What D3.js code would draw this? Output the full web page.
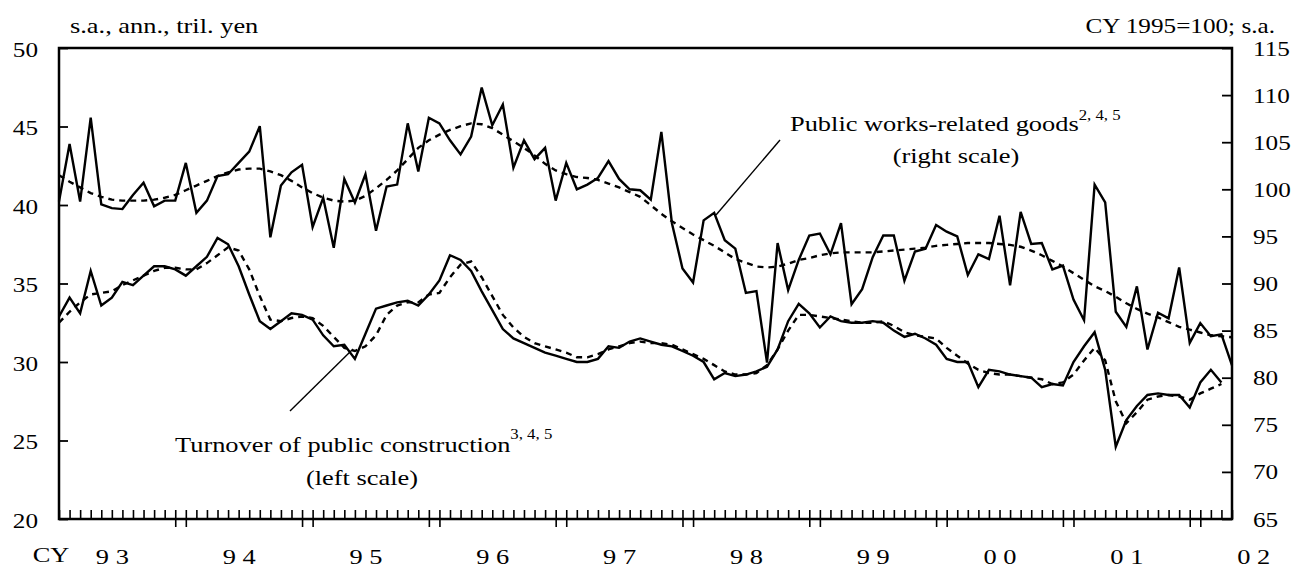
<!DOCTYPE html>
<html>
<head>
<meta charset="utf-8">
<script src="https://cdn.jsdelivr.net/npm/d3@7/dist/d3.min.js"></script>
<style>
  html, body { margin: 0; padding: 0; background: #fff; }
  svg { display: block; }
</style>
</head>
<body>
<div id="chart"></div>
<script>
// monthly data, Jan 1993 onwards
var yearLabels = ["9 3", "9 4", "9 5", "9 6", "9 7", "9 8", "9 9", "0 0", "0 1", "0 2"];
var leftTicks = [20, 25, 30, 35, 40, 45, 50];
var rightTicks = [65, 70, 75, 80, 85, 90, 95, 100, 105, 110, 115];

// public works-related goods (right scale), Jan 93 - Apr 02
var goods = [
  98.7, 104.8, 98.7, 107.6, 98.4, 98.0, 97.9, 99.4, 100.7, 98.2, 98.8, 98.8,
  102.8, 97.5, 98.8, 101.4, 101.6, 102.8, 104.0, 106.7, 94.9, 100.4, 101.8, 102.6,
  96.0, 99.1, 93.8, 101.1, 98.6, 101.6, 95.6, 100.3, 100.5, 107.0, 101.9, 107.6,
  107.0, 105.2, 103.7, 105.6, 110.8, 106.8, 109.0, 102.3, 105.2, 103.2, 104.4, 98.8,
  102.8, 100.0, 100.5, 101.2, 103.0, 101.1, 100.0, 99.9, 98.9, 106.1, 96.4, 91.6,
  90.1, 96.7, 97.5, 94.6, 93.7, 89.0, 89.2, 81.6, 94.3, 89.3, 92.5, 95.1,
  95.3, 93.1, 96.4, 87.8, 89.4, 92.8, 95.1, 95.1, 90.3, 93.4, 93.7, 96.2,
  95.5, 95.0, 90.9, 93.1, 92.6, 97.2, 89.8, 97.6, 94.2, 94.3, 91.5, 91.9,
  88.3, 86.1, 100.5, 98.6, 87.0, 85.4, 89.7, 83.0, 86.9, 86.3, 91.7, 83.7,
  85.8, 84.4, 84.6, 81.3
];
var goodsTrend = [
  101.5, 100.8, 100.2, 99.6, 99.2, 98.9, 98.8, 98.8, 98.8, 98.9, 99.1, 99.4,
  99.9, 100.4, 100.9, 101.4, 101.8, 102.1, 102.2, 102.2, 101.9, 101.5, 100.9, 100.2,
  99.6, 99.1, 98.8, 98.7, 98.8, 99.3, 100.1, 101.0, 102.0, 103.2, 104.4, 105.2,
  105.8, 106.3, 106.7, 107.0, 106.9, 106.5, 105.8, 105.1, 104.4, 103.6, 102.7, 102.0,
  101.6, 101.3, 101.2, 101.0, 100.6, 100.2, 99.7, 99.2, 98.3, 97.4, 96.6, 95.9,
  95.2, 94.6, 94.0, 93.3, 92.6, 92.2, 91.8, 91.7, 91.8, 92.1, 92.5, 92.7,
  93.0, 93.2, 93.3, 93.3, 93.3, 93.3, 93.4, 93.5, 93.6, 93.7, 93.8, 94.0,
  94.1, 94.2, 94.3, 94.3, 94.3, 94.2, 94.1, 93.9, 93.5, 93.0, 92.4, 91.8,
  91.1, 90.4, 89.7, 89.2, 88.6, 87.9, 87.3, 86.8, 86.4, 85.9, 85.4, 85.1,
  84.8, 84.5, 84.4, 84.3
];

// turnover of public construction (left scale), Jan 93 - Mar 02
var construction = [
  32.9, 34.1, 33.1, 35.8, 33.6, 34.1, 35.1, 34.9, 35.5, 36.1, 36.1, 35.9,
  35.5, 36.1, 36.7, 37.9, 37.5, 36.1, 34.3, 32.6, 32.1, 32.6, 33.1, 33.0,
  32.7, 31.7, 31.0, 31.1, 30.2, 31.8, 33.4, 33.6, 33.8, 33.9, 33.6, 34.3,
  35.2, 36.8, 36.5, 35.8, 34.5, 33.3, 32.1, 31.5, 31.2, 30.9, 30.6, 30.4,
  30.2, 30.0, 30.0, 30.2, 31.0, 30.9, 31.3, 31.5, 31.3, 31.1, 31.0, 30.7,
  30.4, 30.0, 28.9, 29.3, 29.1, 29.2, 29.4, 29.7, 30.8, 32.6, 33.7, 33.1,
  32.2, 32.9, 32.6, 32.5, 32.5, 32.6, 32.5, 32.0, 31.6, 31.8, 31.5, 31.1,
  30.2, 30.0, 30.0, 28.4, 29.5, 29.4, 29.2, 29.1, 29.0, 28.4, 28.6, 28.5,
  30.0, 31.0, 31.9, 29.5, 24.6, 26.3, 27.2, 27.9, 28.0, 27.9, 27.9, 27.1,
  28.7, 29.5, 28.7
];
var constructionTrend = [
  32.5, 33.2, 33.8, 34.3, 34.4, 34.5, 34.9, 35.2, 35.5, 35.8, 36.0, 36.0,
  35.9, 35.9, 36.3, 36.8, 37.3, 37.1, 35.9, 34.2, 32.7, 32.6, 32.8, 32.9,
  32.8, 32.3, 31.6, 30.9, 30.7, 31.0, 31.7, 33.0, 33.6, 33.8, 33.8, 34.3,
  34.4, 35.4, 36.2, 36.4, 35.4, 34.2, 33.0, 32.2, 31.6, 31.2, 31.0, 30.8,
  30.6, 30.3, 30.3, 30.5, 30.8, 31.0, 31.2, 31.3, 31.2, 31.2, 31.1, 30.8,
  30.5, 30.2, 29.8, 29.4, 29.2, 29.2, 29.3, 29.8, 30.8, 32.0, 33.0, 33.0,
  32.9, 32.8, 32.7, 32.6, 32.5, 32.5, 32.6, 32.3, 31.9, 31.7, 31.6, 31.5,
  30.9, 30.4, 29.9, 29.5, 29.3, 29.2, 29.2, 29.1, 29.0, 28.9, 28.6, 28.7,
  29.2, 30.1, 30.9, 30.1, 27.5, 26.1, 26.8, 27.6, 27.8, 27.9, 27.8, 27.6,
  28.0, 28.3, 28.6
];

(function () {
  var width = 1294;
  var height = 569;
  var left = 59, right = 1232, top = 48, bottom = 519;
  var FONT = "'Liberation Serif', 'Times New Roman', serif";
  var SX = 1.2; // the original is stretched sideways
  var lastMonth = goods.length - 1;

  var svg = d3.select("#chart").append("svg")
    .attr("width", width)
    .attr("height", height)
    .attr("viewBox", "0 0 " + width + " " + height);

  svg.append("rect").attr("width", width).attr("height", height).attr("fill", "#fff");

  var x = d3.scaleLinear().domain([0, lastMonth]).range([left, right]);
  var yL = d3.scaleLinear().domain([20, 50]).range([bottom, top]);
  var yR = d3.scaleLinear().domain([65, 115]).range([bottom, top]);

  function label(parent, px, py, anchor, size) {
    return parent.append("text")
      .attr("transform", "translate(" + px + "," + py + ") scale(" + SX + ",1)")
      .attr("text-anchor", anchor)
      .attr("font-family", FONT)
      .attr("font-size", size)
      .attr("fill", "#000");
  }

  function styleAxis(g) {
    g.select(".domain").remove();
    g.selectAll(".tick line").attr("stroke", "#000").attr("stroke-width", 1.8);
  }

  // left axis
  var gL = svg.append("g")
    .attr("transform", "translate(" + left + ",0)")
    .call(d3.axisLeft(yL).tickValues(leftTicks).tickSizeInner(-9).tickSizeOuter(0));
  styleAxis(gL);
  gL.selectAll(".tick text")
    .attr("x", null).attr("dy", null)
    .attr("transform", "translate(-21,8) scale(" + SX + ",1)")
    .attr("font-family", FONT).attr("font-size", 21).attr("fill", "#000");

  // right axis
  var gR = svg.append("g")
    .attr("transform", "translate(" + right + ",0)")
    .call(d3.axisRight(yR).tickValues(rightTicks).tickSizeInner(-10).tickSizeOuter(0));
  styleAxis(gR);
  gR.selectAll(".tick text")
    .attr("x", null).attr("dy", null)
    .attr("transform", "translate(21,7) scale(" + SX + ",1)")
    .attr("text-anchor", "start")
    .attr("font-family", FONT).attr("font-size", 21).attr("fill", "#000");

  // month ticks pointing up
  var gM = svg.append("g")
    .attr("transform", "translate(0," + bottom + ")")
    .call(d3.axisBottom(x).tickValues(d3.range(0, lastMonth + 1)).tickSizeInner(-9).tickSizeOuter(0).tickFormat(""));
  styleAxis(gM);
  gM.selectAll(".tick line").attr("stroke-width", 1.6);

  // year boundary ticks pointing down (pairs)
  var majors = [];
  yearLabels.slice(1).forEach(function (d, i) {
    majors.push(12 * (i + 1) - 1, 12 * (i + 1));
  });
  var gY = svg.append("g")
    .attr("transform", "translate(0," + bottom + ")")
    .call(d3.axisBottom(x).tickValues(majors).tickSizeInner(8).tickSizeOuter(0).tickFormat(""));
  styleAxis(gY);
  gY.selectAll(".tick line").attr("stroke-width", 1.6);

  // year labels
  var gT = svg.append("g")
    .attr("transform", "translate(0," + bottom + ")")
    .call(d3.axisBottom(x)
      .tickValues(yearLabels.map(function (d, i) { return 12 * i + 5; }))
      .tickSize(0)
      .tickFormat(function (d, i) { return yearLabels[i]; }));
  styleAxis(gT);
  gT.selectAll(".tick text")
    .attr("y", null).attr("dy", null)
    .attr("transform", "translate(0,45) scale(" + SX + ",1)")
    .attr("font-family", FONT).attr("font-size", 22).attr("fill", "#000");

  label(svg, 51, 562, "middle", 22).text("CY");

  // frame
  svg.append("rect")
    .attr("x", left).attr("y", top)
    .attr("width", right - left).attr("height", bottom - top)
    .attr("fill", "none").attr("stroke", "#000").attr("stroke-width", 2.5);

  // series
  function drawLine(values, yScale, dashed) {
    var line = d3.line()
      .x(function (d, i) { return x(i); })
      .y(function (d) { return yScale(d); });
    svg.append("path")
      .datum(values)
      .attr("d", line)
      .attr("fill", "none")
      .attr("stroke", "#000")
      .attr("stroke-width", 2.4)
      .attr("stroke-linejoin", "miter")
      .attr("stroke-dasharray", dashed ? "6,5" : null);
  }

  drawLine(goodsTrend, yR, true);
  drawLine(constructionTrend, yL, true);
  drawLine(goods, yR, false);
  drawLine(construction, yL, false);

  // unit captions
  label(svg, 70, 33, "start", 22).text("s.a., ann., tril. yen");
  label(svg, 1275, 33, "end", 21).text("CY 1995=100; s.a.");

  // series annotations
  var t1 = label(svg, 790, 131, "start", 22);
  t1.append("tspan").text("Public works-related goods");
  t1.append("tspan").attr("font-size", 14).attr("dy", -11).text("2, 4, 5");
  label(svg, 956, 163, "middle", 22).text("(right scale)");

  var t2 = label(svg, 175, 452, "start", 22);
  t2.append("tspan").text("Turnover of public construction");
  t2.append("tspan").attr("font-size", 14).attr("dy", -13).text("3, 4, 5");
  label(svg, 362, 485, "middle", 22).text("(left scale)");

  svg.append("line")
    .attr("x1", 780).attr("y1", 140).attr("x2", 716).attr("y2", 215)
    .attr("stroke", "#000").attr("stroke-width", 1.4);
  svg.append("line")
    .attr("x1", 290).attr("y1", 411).attr("x2", 353).attr("y2", 349)
    .attr("stroke", "#000").attr("stroke-width", 1.4);
}());
</script>
</body>
</html>
